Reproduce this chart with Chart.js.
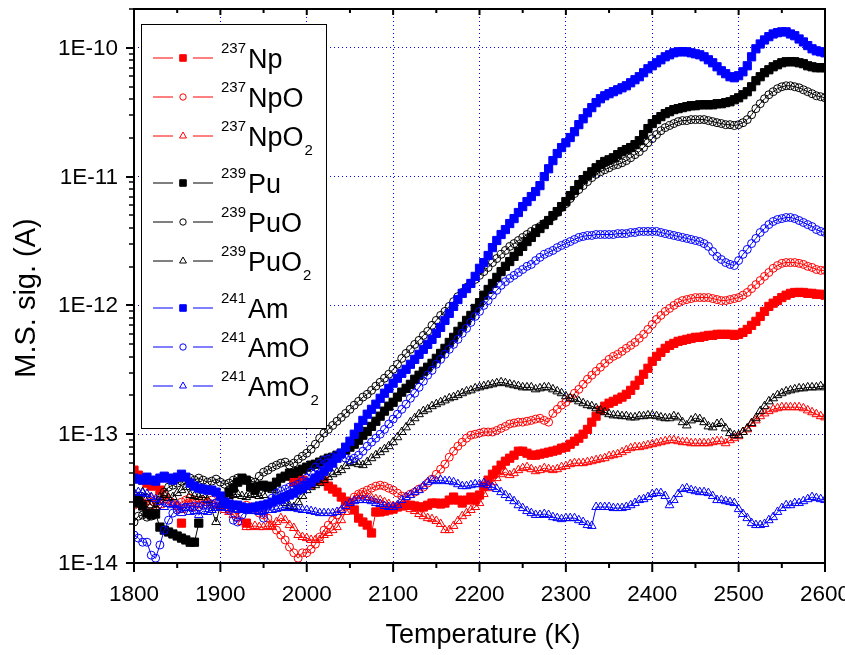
<!DOCTYPE html>
<html>
<head>
<meta charset="utf-8">
<title>M.S. signal vs temperature</title>
<script src="https://cdn.jsdelivr.net/npm/chart.js@4.4.1/dist/chart.umd.min.js"></script>
<style>
  html, body { margin: 0; padding: 0; background: #fff; }
  #wrap { width: 845px; height: 655px; }
</style>
</head>
<body>
<div id="wrap"><canvas id="msChart" width="845" height="655"></canvas></div>
<script>
// temperature grid (K), one reading every 5 K
const temps = [
  1800, 1805, 1810, 1815, 1820, 1825, 1830, 1835, 1840, 1845,
  1850, 1855, 1860, 1865, 1870, 1875, 1880, 1885, 1890, 1895,
  1900, 1905, 1910, 1915, 1920, 1925, 1930, 1935, 1940, 1945,
  1950, 1955, 1960, 1965, 1970, 1975, 1980, 1985, 1990, 1995,
  2000, 2005, 2010, 2015, 2020, 2025, 2030, 2035, 2040, 2045,
  2050, 2055, 2060, 2065, 2070, 2075, 2080, 2085, 2090, 2095,
  2100, 2105, 2110, 2115, 2120, 2125, 2130, 2135, 2140, 2145,
  2150, 2155, 2160, 2165, 2170, 2175, 2180, 2185, 2190, 2195,
  2200, 2205, 2210, 2215, 2220, 2225, 2230, 2235, 2240, 2245,
  2250, 2255, 2260, 2265, 2270, 2275, 2280, 2285, 2290, 2295,
  2300, 2305, 2310, 2315, 2320, 2325, 2330, 2335, 2340, 2345,
  2350, 2355, 2360, 2365, 2370, 2375, 2380, 2385, 2390, 2395,
  2400, 2405, 2410, 2415, 2420, 2425, 2430, 2435, 2440, 2445,
  2450, 2455, 2460, 2465, 2470, 2475, 2480, 2485, 2490, 2495,
  2500, 2505, 2510, 2515, 2520, 2525, 2530, 2535, 2540, 2545,
  2550, 2555, 2560, 2565, 2570, 2575, 2580, 2585, 2590, 2595, 2600
];

// signals (A)
const np = [
  5.26e-14, 4.81e-14, 4.40e-14, 4.17e-14, 3.95e-14, 4.09e-14, 3.68e-14, null, null, null,
  null, 2.04e-14, null, null, null, null, null, null, null, null,
  null, null, null, null, null, null, 2.04e-14, null, null, null,
  null, null, null, null, null, null, null, 4.24e-14, 4.56e-14, 4.40e-14,
  4.17e-14, 4.09e-14, 4.40e-14, 4.56e-14, 4.32e-14, 3.95e-14, 3.75e-14, 3.55e-14, 3.25e-14, 3.02e-14,
  2.92e-14, 2.58e-14, 2.23e-14, 2.08e-14, 1.97e-14, 1.71e-14, 2.49e-14, 2.49e-14, 2.53e-14, 2.58e-14,
  2.62e-14, 2.72e-14, 2.77e-14, 2.81e-14, 2.81e-14, 2.77e-14, 2.72e-14, 2.72e-14, 2.81e-14, 2.92e-14,
  2.92e-14, 2.87e-14, 2.92e-14, 3.08e-14, 3.25e-14, 3.08e-14, 2.92e-14, 3.08e-14, 3.25e-14, 3.08e-14,
  3.37e-14, 3.95e-14, 4.40e-14, 4.89e-14, 5.26e-14, 5.75e-14, 6.17e-14, 6.51e-14, 6.87e-14, 7.38e-14,
  7.38e-14, 7.12e-14, 6.87e-14, 6.87e-14, 7.00e-14, 7.12e-14, 7.25e-14, 7.38e-14, 7.52e-14, 7.79e-14,
  7.93e-14, 8.36e-14, 8.82e-14, 9.31e-14, 1.0e-13, 1.09e-13, 1.24e-13, 1.38e-13, 1.53e-13, 1.65e-13,
  1.74e-13, 1.80e-13, 1.87e-13, 1.94e-13, 2.04e-13, 2.19e-13, 2.40e-13, 2.62e-13, 2.92e-13, 3.25e-13,
  3.68e-13, 4.02e-13, 4.32e-13, 4.64e-13, 4.89e-13, 5.07e-13, 5.26e-13, 5.35e-13, 5.45e-13, 5.55e-13,
  5.65e-13, 5.65e-13, 5.75e-13, 5.85e-13, 5.85e-13, 5.96e-13, 5.96e-13, 5.96e-13, 5.96e-13, 5.85e-13,
  5.96e-13, 6.17e-13, 6.51e-13, 7.00e-13, 7.52e-13, 8.21e-13, 8.98e-13, 9.82e-13, 1.04e-12, 1.09e-12,
  1.15e-12, 1.20e-12, 1.24e-12, 1.26e-12, 1.26e-12, 1.26e-12, 1.24e-12, 1.24e-12, 1.22e-12, 1.22e-12, 1.20e-12
];

const npo = [
  2.81e-14, 3.08e-14, 2.92e-14, 3.19e-14, 2.81e-14, 3.08e-14, 3.25e-14, 3.37e-14, 3.08e-14, 2.92e-14,
  2.81e-14, 2.97e-14, 3.08e-14, 3.19e-14, 3.08e-14, 2.92e-14, 2.81e-14, 2.97e-14, 3.08e-14, 2.92e-14,
  2.81e-14, 2.92e-14, 3.08e-14, 2.81e-14, 2.58e-14, 2.67e-14, 2.81e-14, 2.72e-14, 2.58e-14, 2.44e-14,
  2.36e-14, 2.23e-14, 1.97e-14, 1.80e-14, 1.65e-14, 1.51e-14, 1.33e-14, 1.20e-14, 1.09e-14, 1.20e-14,
  1.20e-14, 1.28e-14, 1.40e-14, 1.59e-14, 1.80e-14, 1.97e-14, 2.15e-14, 2.36e-14, 2.53e-14, 2.77e-14,
  2.97e-14, 3.25e-14, 3.43e-14, 3.55e-14, 3.68e-14, 3.81e-14, 3.95e-14, 4.02e-14, 3.95e-14, 3.81e-14,
  3.68e-14, 3.49e-14, 3.31e-14, 3.25e-14, 3.43e-14, 3.55e-14, 3.75e-14, 3.88e-14, 4.17e-14, 4.48e-14,
  4.89e-14, 5.35e-14, 5.85e-14, 6.63e-14, 7.38e-14, 8.07e-14, 8.67e-14, 9.31e-14, 9.82e-14, 1.0e-13,
  1.02e-13, 1.04e-13, 1.04e-13, 1.04e-13, 1.07e-13, 1.11e-13, 1.15e-13, 1.20e-13, 1.22e-13, 1.24e-13,
  1.24e-13, 1.26e-13, 1.28e-13, 1.31e-13, 1.33e-13, 1.28e-13, 1.24e-13, 1.45e-13, 1.56e-13, 1.68e-13,
  1.77e-13, 1.90e-13, 2.08e-13, 2.23e-13, 2.44e-13, 2.67e-13, 2.87e-13, 3.08e-13, 3.31e-13, 3.55e-13,
  3.81e-13, 4.02e-13, 4.17e-13, 4.40e-13, 4.64e-13, 4.89e-13, 5.16e-13, 5.55e-13, 5.96e-13, 6.51e-13,
  7.12e-13, 7.79e-13, 8.36e-13, 8.98e-13, 9.47e-13, 1.0e-12, 1.05e-12, 1.09e-12, 1.11e-12, 1.13e-12,
  1.15e-12, 1.15e-12, 1.15e-12, 1.15e-12, 1.13e-12, 1.11e-12, 1.09e-12, 1.09e-12, 1.11e-12, 1.13e-12,
  1.15e-12, 1.20e-12, 1.26e-12, 1.35e-12, 1.45e-12, 1.56e-12, 1.68e-12, 1.80e-12, 1.94e-12, 2.04e-12,
  2.12e-12, 2.15e-12, 2.15e-12, 2.15e-12, 2.12e-12, 2.08e-12, 2.01e-12, 1.97e-12, 1.90e-12, 1.87e-12, 1.87e-12
];

const npo2 = [
  3.08e-14, 3.25e-14, 2.81e-14, 2.97e-14, 3.19e-14, 2.72e-14, 2.81e-14, 3.08e-14, 3.19e-14, 2.92e-14,
  2.72e-14, 2.58e-14, 2.81e-14, 2.92e-14, 2.67e-14, 2.81e-14, 3.08e-14, 2.92e-14, 2.81e-14, 2.67e-14,
  2.77e-14, 2.58e-14, 2.49e-14, 2.36e-14, 2.23e-14, 2.08e-14, 1.90e-14, 1.90e-14, 1.94e-14, 1.90e-14,
  1.90e-14, 1.94e-14, 1.90e-14, 2.08e-14, 2.23e-14, 2.15e-14, 1.97e-14, 1.87e-14, 1.65e-14, 1.59e-14,
  1.56e-14, 1.51e-14, 1.51e-14, 1.51e-14, 1.65e-14, 1.71e-14, 1.80e-14, 1.90e-14, 2.15e-14, 2.49e-14,
  2.72e-14, 3.08e-14, 3.31e-14, 3.37e-14, 3.25e-14, 3.19e-14, 3.13e-14, 3.08e-14, 2.97e-14, 2.87e-14,
  2.77e-14, 2.72e-14, 2.72e-14, 2.72e-14, 2.62e-14, 2.53e-14, 2.40e-14, 2.31e-14, 2.23e-14, 2.19e-14,
  2.12e-14, 2.01e-14, 1.80e-14, 1.80e-14, 1.94e-14, 2.12e-14, 2.31e-14, 2.44e-14, 2.58e-14, 2.72e-14,
  2.92e-14, 3.43e-14, 3.81e-14, 4.24e-14, 4.56e-14, 4.89e-14, 5.07e-14, 4.81e-14, 4.98e-14, 5.26e-14,
  5.45e-14, 5.55e-14, 5.35e-14, 5.16e-14, 5.26e-14, 5.45e-14, 5.35e-14, 5.26e-14, 5.35e-14, 5.55e-14,
  5.65e-14, 5.85e-14, 5.96e-14, 5.96e-14, 5.96e-14, 6.07e-14, 6.17e-14, 6.29e-14, 6.40e-14, 6.51e-14,
  6.75e-14, 6.87e-14, 7.00e-14, 7.25e-14, 7.52e-14, 7.79e-14, 7.93e-14, 7.93e-14, 8.07e-14, 8.21e-14,
  8.36e-14, 8.51e-14, 8.67e-14, 8.82e-14, 8.98e-14, 8.98e-14, 8.82e-14, 8.67e-14, 8.67e-14, 8.51e-14,
  8.51e-14, 8.51e-14, 8.51e-14, 8.51e-14, 8.67e-14, 8.82e-14, 8.82e-14, 8.51e-14, 8.98e-14, 9.31e-14,
  9.64e-14, 1.04e-13, 1.09e-13, 1.20e-13, 1.28e-13, 1.38e-13, 1.45e-13, 1.51e-13, 1.56e-13, 1.59e-13,
  1.62e-13, 1.62e-13, 1.62e-13, 1.62e-13, 1.62e-13, 1.59e-13, 1.53e-13, 1.48e-13, 1.43e-13, 1.38e-13, 1.35e-13
];

const pu = [
  2.92e-14, 3.08e-14, 2.77e-14, 2.44e-14, 2.36e-14, 2.40e-14, 1.90e-14, 1.80e-14, 1.74e-14, 1.68e-14,
  1.62e-14, 1.56e-14, 1.51e-14, 1.45e-14, 1.45e-14, 2.04e-14, null, null, null, null,
  null, null, 3.55e-14, 3.81e-14, 4.24e-14, 4.56e-14, 4.40e-14, 3.88e-14, 3.68e-14, 3.95e-14,
  4.02e-14, 3.88e-14, 3.95e-14, 4.24e-14, 4.56e-14, 4.72e-14, 4.98e-14, 4.98e-14, 5.16e-14, 5.35e-14,
  5.55e-14, 5.75e-14, 5.85e-14, 6.07e-14, 6.29e-14, 6.51e-14, 6.63e-14, 6.87e-14, 7.12e-14, 7.52e-14,
  7.93e-14, 8.36e-14, 8.98e-14, 9.82e-14, 1.05e-13, 1.15e-13, 1.26e-13, 1.38e-13, 1.51e-13, 1.65e-13,
  1.77e-13, 1.94e-13, 2.12e-13, 2.27e-13, 2.44e-13, 2.67e-13, 2.87e-13, 3.08e-13, 3.31e-13, 3.55e-13,
  3.88e-13, 4.24e-13, 4.64e-13, 5.16e-13, 5.65e-13, 6.29e-13, 6.87e-13, 7.65e-13, 8.36e-13, 9.47e-13,
  1.05e-12, 1.20e-12, 1.33e-12, 1.48e-12, 1.65e-12, 1.83e-12, 2.01e-12, 2.19e-12, 2.40e-12, 2.62e-12,
  2.87e-12, 3.13e-12, 3.37e-12, 3.68e-12, 3.95e-12, 4.24e-12, 4.56e-12, 4.98e-12, 5.35e-12, 5.85e-12,
  6.40e-12, 7.12e-12, 7.79e-12, 8.67e-12, 9.47e-12, 1.02e-11, 1.09e-11, 1.17e-11, 1.24e-11, 1.31e-11,
  1.35e-11, 1.40e-11, 1.48e-11, 1.56e-11, 1.62e-11, 1.68e-11, 1.77e-11, 1.90e-11, 2.12e-11, 2.36e-11,
  2.58e-11, 2.77e-11, 2.92e-11, 3.08e-11, 3.19e-11, 3.31e-11, 3.37e-11, 3.43e-11, 3.49e-11, 3.55e-11,
  3.55e-11, 3.61e-11, 3.61e-11, 3.61e-11, 3.61e-11, 3.68e-11, 3.68e-11, 3.75e-11, 3.81e-11, 3.95e-11,
  4.09e-11, 4.32e-11, 4.56e-11, 4.98e-11, 5.55e-11, 5.96e-11, 6.40e-11, 6.75e-11, 7.12e-11, 7.38e-11,
  7.65e-11, 7.79e-11, 7.79e-11, 7.79e-11, 7.65e-11, 7.52e-11, 7.25e-11, 7.12e-11, 7.00e-11, 7.00e-11, 7.00e-11
];

const puo = [
  2.08e-14, 2.31e-14, 2.36e-14, 2.27e-14, 2.31e-14, 2.58e-14, 3.08e-14, 3.55e-14, 3.88e-14, 4.02e-14,
  4.17e-14, 4.32e-14, 4.40e-14, 4.56e-14, 4.40e-14, 4.56e-14, 4.40e-14, 4.24e-14, 4.32e-14, 4.48e-14,
  4.24e-14, 4.09e-14, 4.17e-14, 4.40e-14, 4.56e-14, 4.48e-14, 4.40e-14, 4.32e-14, 4.24e-14, 4.72e-14,
  5.07e-14, 5.26e-14, 5.55e-14, 5.75e-14, 5.96e-14, 6.07e-14, 5.75e-14, 5.96e-14, 6.40e-14, 6.75e-14,
  7.12e-14, 7.65e-14, 8.36e-14, 9.31e-14, 1.02e-13, 1.09e-13, 1.17e-13, 1.26e-13, 1.35e-13, 1.45e-13,
  1.56e-13, 1.68e-13, 1.80e-13, 1.94e-13, 2.04e-13, 2.19e-13, 2.36e-13, 2.53e-13, 2.72e-13, 2.92e-13,
  3.19e-13, 3.49e-13, 3.88e-13, 4.24e-13, 4.56e-13, 4.98e-13, 5.35e-13, 5.85e-13, 6.29e-13, 7.00e-13,
  7.65e-13, 8.36e-13, 8.98e-13, 9.82e-13, 1.07e-12, 1.17e-12, 1.26e-12, 1.38e-12, 1.48e-12, 1.59e-12,
  1.71e-12, 1.83e-12, 1.97e-12, 2.15e-12, 2.31e-12, 2.49e-12, 2.67e-12, 2.87e-12, 3.02e-12, 3.19e-12,
  3.37e-12, 3.55e-12, 3.75e-12, 3.95e-12, 4.09e-12, 4.32e-12, 4.56e-12, 4.89e-12, 5.26e-12, 5.75e-12,
  6.17e-12, 6.75e-12, 7.38e-12, 7.93e-12, 8.51e-12, 9.14e-12, 9.82e-12, 1.04e-11, 1.09e-11, 1.13e-11,
  1.17e-11, 1.22e-11, 1.24e-11, 1.28e-11, 1.33e-11, 1.40e-11, 1.48e-11, 1.56e-11, 1.68e-11, 1.83e-11,
  1.97e-11, 2.12e-11, 2.27e-11, 2.40e-11, 2.49e-11, 2.58e-11, 2.67e-11, 2.72e-11, 2.72e-11, 2.77e-11,
  2.77e-11, 2.77e-11, 2.77e-11, 2.72e-11, 2.67e-11, 2.62e-11, 2.58e-11, 2.53e-11, 2.53e-11, 2.49e-11,
  2.53e-11, 2.62e-11, 2.77e-11, 3.02e-11, 3.37e-11, 3.68e-11, 4.02e-11, 4.32e-11, 4.56e-11, 4.81e-11,
  4.98e-11, 5.07e-11, 5.07e-11, 4.98e-11, 4.89e-11, 4.72e-11, 4.56e-11, 4.40e-11, 4.24e-11, 4.17e-11, 4.09e-11
];

const puo2 = [
  3.49e-14, 3.25e-14, 3.55e-14, 3.19e-14, 2.81e-14, 2.72e-14, 3.25e-14, 3.37e-14, 3.19e-14, 3.25e-14,
  3.49e-14, 3.68e-14, 3.88e-14, 3.37e-14, 3.31e-14, 3.25e-14, 3.37e-14, 3.08e-14, 2.58e-14, 2.08e-14,
  2.81e-14, 3.19e-14, 3.31e-14, 3.37e-14, 3.43e-14, 3.31e-14, 3.25e-14, 3.37e-14, 3.43e-14, 3.31e-14,
  3.37e-14, 3.81e-14, 3.68e-14, 3.43e-14, 3.19e-14, 2.92e-14, 2.77e-14, 2.72e-14, 2.97e-14, 3.31e-14,
  3.68e-14, 3.88e-14, 4.02e-14, 4.17e-14, 4.40e-14, 4.64e-14, 4.89e-14, 5.07e-14, 5.26e-14, 5.65e-14,
  5.96e-14, 6.07e-14, 5.85e-14, 5.75e-14, 6.07e-14, 6.51e-14, 6.87e-14, 7.25e-14, 7.65e-14, 8.07e-14,
  8.67e-14, 9.47e-14, 1.04e-13, 1.13e-13, 1.24e-13, 1.33e-13, 1.43e-13, 1.51e-13, 1.56e-13, 1.65e-13,
  1.71e-13, 1.77e-13, 1.83e-13, 1.90e-13, 1.94e-13, 2.01e-13, 2.08e-13, 2.15e-13, 2.19e-13, 2.27e-13,
  2.31e-13, 2.36e-13, 2.40e-13, 2.44e-13, 2.49e-13, 2.53e-13, 2.49e-13, 2.44e-13, 2.40e-13, 2.36e-13,
  2.31e-13, 2.31e-13, 2.31e-13, 2.23e-13, 2.27e-13, 2.31e-13, 2.31e-13, 2.23e-13, 2.15e-13, 2.08e-13,
  1.97e-13, 1.90e-13, 1.87e-13, 1.80e-13, 1.74e-13, 1.68e-13, 1.65e-13, 1.59e-13, 1.53e-13, 1.48e-13,
  1.43e-13, 1.40e-13, 1.40e-13, 1.38e-13, 1.38e-13, 1.35e-13, 1.35e-13, 1.38e-13, 1.38e-13, 1.40e-13,
  1.40e-13, 1.38e-13, 1.35e-13, 1.33e-13, 1.33e-13, 1.38e-13, 1.35e-13, 1.24e-13, 1.17e-13, 1.28e-13,
  1.33e-13, 1.31e-13, 1.24e-13, 1.15e-13, 1.13e-13, 1.20e-13, 1.22e-13, 1.11e-13, 1.02e-13, 9.82e-14,
  9.82e-14, 1.04e-13, 1.11e-13, 1.22e-13, 1.33e-13, 1.51e-13, 1.65e-13, 1.80e-13, 1.90e-13, 2.01e-13,
  2.08e-13, 2.15e-13, 2.19e-13, 2.23e-13, 2.27e-13, 2.27e-13, 2.31e-13, 2.31e-13, 2.31e-13, 2.36e-13, 2.31e-13
];

const am = [
  4.56e-14, 4.48e-14, 4.40e-14, 4.64e-14, 4.40e-14, 4.32e-14, 4.56e-14, 4.72e-14, 4.56e-14, 4.40e-14,
  4.64e-14, 4.89e-14, 4.64e-14, 4.17e-14, 3.95e-14, 3.81e-14, 3.75e-14, 3.68e-14, 3.68e-14, 3.55e-14,
  3.31e-14, 2.97e-14, 2.87e-14, 2.81e-14, 2.81e-14, 2.72e-14, 2.67e-14, 2.67e-14, 2.72e-14, 2.77e-14,
  2.81e-14, 2.87e-14, 2.97e-14, 3.08e-14, 3.13e-14, 3.25e-14, 3.37e-14, 3.49e-14, 3.68e-14, 3.81e-14,
  4.02e-14, 4.24e-14, 4.56e-14, 4.81e-14, 5.16e-14, 5.55e-14, 5.96e-14, 6.51e-14, 7.12e-14, 7.93e-14,
  8.82e-14, 1.0e-13, 1.13e-13, 1.28e-13, 1.43e-13, 1.56e-13, 1.71e-13, 1.90e-13, 2.08e-13, 2.27e-13,
  2.49e-13, 2.72e-13, 2.97e-13, 3.19e-13, 3.49e-13, 3.81e-13, 4.17e-13, 4.56e-13, 4.98e-13, 5.45e-13,
  6.07e-13, 6.75e-13, 7.65e-13, 8.67e-13, 9.82e-13, 1.11e-12, 1.24e-12, 1.35e-12, 1.48e-12, 1.68e-12,
  1.94e-12, 2.15e-12, 2.44e-12, 2.81e-12, 3.19e-12, 3.55e-12, 3.88e-12, 4.32e-12, 4.72e-12, 5.26e-12,
  5.85e-12, 6.40e-12, 7.00e-12, 7.65e-12, 8.51e-12, 1.0e-11, 1.15e-11, 1.33e-11, 1.51e-11, 1.68e-11,
  1.83e-11, 2.01e-11, 2.23e-11, 2.53e-11, 2.81e-11, 3.13e-11, 3.43e-11, 3.75e-11, 4.02e-11, 4.24e-11,
  4.40e-11, 4.56e-11, 4.72e-11, 4.89e-11, 5.07e-11, 5.35e-11, 5.65e-11, 5.96e-11, 6.40e-11, 6.87e-11,
  7.25e-11, 7.65e-11, 8.07e-11, 8.51e-11, 8.82e-11, 9.14e-11, 9.31e-11, 9.31e-11, 9.31e-11, 9.14e-11,
  8.98e-11, 8.82e-11, 8.51e-11, 8.07e-11, 7.65e-11, 7.12e-11, 6.63e-11, 6.29e-11, 5.96e-11, 5.85e-11,
  6.07e-11, 6.51e-11, 7.25e-11, 8.51e-11, 9.82e-11, 1.07e-10, 1.15e-10, 1.22e-10, 1.28e-10, 1.31e-10,
  1.33e-10, 1.33e-10, 1.28e-10, 1.24e-10, 1.17e-10, 1.11e-10, 1.04e-10, 9.82e-11, 9.47e-11, 9.31e-11, 9.14e-11
];

const amo = [
  1.65e-14, 1.56e-14, 1.45e-14, 1.45e-14, 1.15e-14, 1.09e-14, 1.38e-14, 1.80e-14, 2.15e-14, 2.44e-14,
  2.58e-14, 2.67e-14, 2.72e-14, 2.72e-14, 2.77e-14, 2.72e-14, 2.81e-14, 2.81e-14, 2.87e-14, 2.92e-14,
  2.92e-14, 2.87e-14, 2.58e-14, 2.15e-14, 2.08e-14, 2.36e-14, 2.58e-14, 2.67e-14, 2.67e-14, 2.58e-14,
  2.23e-14, 2.81e-14, 3.19e-14, 3.49e-14, 3.61e-14, 3.75e-14, 3.88e-14, 3.95e-14, 4.09e-14, 4.32e-14,
  4.56e-14, 5.07e-14, 5.55e-14, 5.96e-14, 6.29e-14, 6.40e-14, 6.63e-14, 6.87e-14, 6.87e-14, 6.51e-14,
  6.29e-14, 6.51e-14, 6.87e-14, 7.38e-14, 8.07e-14, 8.67e-14, 9.31e-14, 1.0e-13, 1.09e-13, 1.20e-13,
  1.31e-13, 1.43e-13, 1.56e-13, 1.71e-13, 1.90e-13, 2.08e-13, 2.31e-13, 2.58e-13, 2.87e-13, 3.13e-13,
  3.49e-13, 3.81e-13, 4.17e-13, 4.56e-13, 4.98e-13, 5.45e-13, 6.07e-13, 6.63e-13, 7.38e-13, 8.21e-13,
  8.98e-13, 1.0e-12, 1.09e-12, 1.20e-12, 1.31e-12, 1.43e-12, 1.53e-12, 1.62e-12, 1.71e-12, 1.80e-12,
  1.90e-12, 2.01e-12, 2.08e-12, 2.23e-12, 2.36e-12, 2.49e-12, 2.58e-12, 2.67e-12, 2.81e-12, 2.92e-12,
  3.02e-12, 3.13e-12, 3.25e-12, 3.37e-12, 3.43e-12, 3.49e-12, 3.49e-12, 3.55e-12, 3.55e-12, 3.55e-12,
  3.55e-12, 3.55e-12, 3.61e-12, 3.61e-12, 3.61e-12, 3.68e-12, 3.68e-12, 3.75e-12, 3.75e-12, 3.75e-12,
  3.75e-12, 3.75e-12, 3.68e-12, 3.61e-12, 3.55e-12, 3.49e-12, 3.43e-12, 3.37e-12, 3.31e-12, 3.25e-12,
  3.19e-12, 3.13e-12, 3.02e-12, 2.87e-12, 2.62e-12, 2.40e-12, 2.27e-12, 2.15e-12, 2.08e-12, 2.04e-12,
  2.23e-12, 2.49e-12, 2.72e-12, 3.02e-12, 3.31e-12, 3.68e-12, 3.95e-12, 4.24e-12, 4.48e-12, 4.64e-12,
  4.72e-12, 4.81e-12, 4.81e-12, 4.72e-12, 4.56e-12, 4.40e-12, 4.24e-12, 4.09e-12, 3.88e-12, 3.75e-12, 3.68e-12
];

const amo2 = [
  3.49e-14, 3.55e-14, 3.49e-14, 3.43e-14, 3.25e-14, 3.13e-14, 2.97e-14, 2.72e-14, 2.87e-14, 2.81e-14,
  2.81e-14, 2.44e-14, 2.67e-14, 2.49e-14, 2.53e-14, 2.36e-14, 2.53e-14, 2.49e-14, 2.58e-14, 2.67e-14,
  2.72e-14, 2.67e-14, 2.67e-14, 2.62e-14, 2.58e-14, 2.62e-14, 2.58e-14, 2.53e-14, 2.53e-14, 2.49e-14,
  2.53e-14, 2.58e-14, 2.58e-14, 2.62e-14, 2.67e-14, 2.72e-14, 2.67e-14, 2.67e-14, 2.62e-14, 2.58e-14,
  2.58e-14, 2.53e-14, 2.49e-14, 2.44e-14, 2.44e-14, 2.44e-14, 2.44e-14, 2.49e-14, 2.58e-14, 2.77e-14,
  2.92e-14, 3.02e-14, 3.08e-14, 3.08e-14, 3.08e-14, 3.02e-14, 2.92e-14, 2.87e-14, 2.77e-14, 2.72e-14,
  2.72e-14, 2.81e-14, 3.08e-14, 3.25e-14, 3.37e-14, 3.55e-14, 3.68e-14, 3.95e-14, 4.24e-14, 4.40e-14,
  4.32e-14, 4.40e-14, 4.32e-14, 4.32e-14, 4.24e-14, 4.09e-14, 3.95e-14, 3.95e-14, 4.02e-14, 4.09e-14,
  4.09e-14, 4.17e-14, 4.02e-14, 3.88e-14, 3.75e-14, 3.55e-14, 3.37e-14, 3.19e-14, 3.02e-14, 2.81e-14,
  2.67e-14, 2.53e-14, 2.44e-14, 2.36e-14, 2.36e-14, 2.40e-14, 2.36e-14, 2.27e-14, 2.23e-14, 2.19e-14,
  2.23e-14, 2.23e-14, 2.23e-14, 2.15e-14, 2.08e-14, 1.97e-14, 1.94e-14, 2.72e-14, 2.72e-14, 2.72e-14,
  2.72e-14, 2.67e-14, 2.67e-14, 2.67e-14, 2.72e-14, 2.81e-14, 2.92e-14, 3.08e-14, 3.13e-14, 3.25e-14,
  3.43e-14, 3.49e-14, 3.49e-14, 3.31e-14, 2.81e-14, 3.08e-14, 3.43e-14, 3.75e-14, 3.81e-14, 3.68e-14,
  3.61e-14, 3.55e-14, 3.55e-14, 3.49e-14, 3.31e-14, 3.08e-14, 3.08e-14, 3.02e-14, 2.97e-14, 2.92e-14,
  2.62e-14, 2.40e-14, 2.23e-14, 2.04e-14, 1.97e-14, 1.97e-14, 2.01e-14, 2.15e-14, 2.27e-14, 2.49e-14,
  2.67e-14, 2.81e-14, 2.81e-14, 2.92e-14, 2.92e-14, 3.02e-14, 3.13e-14, 3.25e-14, 3.19e-14, 3.13e-14, 3.08e-14
];

// legend text pieces: mass number (superscript), species, subscript
const isotopes = ['237', '237', '237', '239', '239', '239', '241', '241', '241'];
const species = ['Np', 'NpO', 'NpO', 'Pu', 'PuO', 'PuO', 'Am', 'AmO', 'AmO'];
const subs = ['', '', '2', '', '', '2', '', '', '2'];

const colors = ['#ff0000', '#ff0000', '#ff0000', '#000000', '#000000', '#000000', '#0000ff', '#0000ff', '#0000ff'];
const shapes = ['rect', 'circle', 'triangle', 'rect', 'circle', 'triangle', 'rect', 'circle', 'triangle'];

// axis ticks
const xTicks = [1800, 1900, 2000, 2100, 2200, 2300, 2400, 2500, 2600];
const xMinor = [1850, 1950, 2050, 2150, 2250, 2350, 2450, 2550];
const yTicks = [1e-14, 1e-13, 1e-12, 1e-11, 1e-10];
const yLabels = ['1E-14', '1E-13', '1E-12', '1E-11', '1E-10'];

const FONT = '"Liberation Sans", Arial, Helvetica, sans-serif';
const radius = { rect: 5.8, circle: 4, triangle: 5 };

const series = [np, npo, npo2, pu, puo, puo2, am, amo, amo2];

const datasets = series.map((vals, i) => ({
  label: isotopes[i] + species[i] + subs[i],
  data: vals.map((v, k) => ({ x: temps[k], y: v })),
  showLine: true,
  spanGaps: false,
  borderColor: colors[i],
  borderWidth: 1,
  pointStyle: shapes[i],
  pointRadius: radius[shapes[i]],
  pointBorderWidth: 1,
  pointBorderColor: colors[i],
  pointBackgroundColor: shapes[i] === 'rect' ? colors[i] : 'rgba(0,0,0,0)',
  order: 9 - i
}));

const isDecade = v => Math.abs(Math.log10(v) - Math.round(Math.log10(v))) < 1e-6;

const framePlugin = {
  id: 'frame',
  afterDraw(chart) {
    const { ctx, chartArea: a, scales: { x, y } } = chart;
    const line = (x1, y1, x2, y2) => {
      ctx.beginPath();
      ctx.moveTo(x1, y1);
      ctx.lineTo(x2, y2);
      ctx.stroke();
    };
    ctx.save();
    ctx.strokeStyle = '#000';
    ctx.fillStyle = '#000';

    // tick marks
    ctx.lineWidth = 2;
    xTicks.forEach(v => {
      const px = x.getPixelForValue(v);
      line(px, a.bottom, px, a.bottom + 9);
      line(px, a.top, px, a.top + 6);
    });
    xMinor.forEach(v => {
      const px = x.getPixelForValue(v);
      line(px, a.bottom, px, a.bottom + 5);
      line(px, a.top, px, a.top + 4);
    });
    yTicks.forEach(v => {
      const py = Math.round(y.getPixelForValue(v));
      line(a.left - 8, py, a.left, py);
    });
    ctx.lineWidth = 1.5;
    for (let e = -14; e <= -10; e++) {
      for (let m = 2; m <= 9; m++) {
        const v = m * Math.pow(10, e);
        if (v > y.max * 1.0001) break;
        const py = Math.round(y.getPixelForValue(v));
        line(a.left - 5, py, a.left, py);
      }
    }

    // frame
    ctx.lineWidth = 2;
    ctx.strokeRect(a.left, a.top, a.right - a.left, a.bottom - a.top);

    // tick labels
    ctx.font = '22.5px ' + FONT;
    ctx.textAlign = 'center';
    ctx.textBaseline = 'alphabetic';
    xTicks.forEach(v => ctx.fillText(String(v), x.getPixelForValue(v), a.bottom + 38));
    ctx.textAlign = 'right';
    yTicks.forEach((v, i) => ctx.fillText(yLabels[i], a.left - 16, y.getPixelForValue(v) + 7));

    // axis titles
    ctx.font = '27px ' + FONT;
    ctx.textAlign = 'center';
    ctx.fillText('Temperature (K)', 483, 643);
    ctx.save();
    ctx.font = '29px ' + FONT;
    ctx.translate(35, 298);
    ctx.rotate(-Math.PI / 2);
    ctx.fillText('M.S. sig. (A)', 0, 0);
    ctx.restore();

    // legend
    const box = { left: 141, top: 24, right: 327, bottom: 429 };
    ctx.fillStyle = '#fff';
    ctx.fillRect(box.left, box.top, box.right - box.left, box.bottom - box.top);
    ctx.lineWidth = 1;
    ctx.strokeStyle = '#000';
    ctx.strokeRect(box.left + 0.5, box.top + 0.5, box.right - box.left - 1, box.bottom - box.top - 1);

    let ry = 58;
    chart.data.datasets.forEach((ds, i) => {
      ctx.strokeStyle = colors[i];
      ctx.lineWidth = 1;
      line(153, ry, 173, ry);
      line(193, ry, 213, ry);
      ctx.fillStyle = ds.pointBackgroundColor;
      Chart.helpers.drawPoint(ctx, {
        pointStyle: shapes[i],
        radius: radius[shapes[i]] * 0.8,
        borderWidth: 1,
        rotation: 0
      }, 183, ry);

      ctx.fillStyle = '#000';
      ctx.textAlign = 'left';
      let tx = 221;
      ctx.font = '15px ' + FONT;
      ctx.fillText(isotopes[i], tx, ry - 5);
      tx += ctx.measureText(isotopes[i]).width + 2;
      ctx.font = '27px ' + FONT;
      ctx.fillText(species[i], tx, ry + 10);
      tx += ctx.measureText(species[i]).width + 1;
      if (subs[i]) {
        ctx.font = '15px ' + FONT;
        ctx.fillText(subs[i], tx, ry + 19);
      }
      ry += subs[i] ? 47 : 39;
    });

    ctx.restore();
  }
};

new Chart(document.getElementById('msChart'), {
  type: 'scatter',
  data: { datasets: datasets },
  options: {
    responsive: false,
    animation: false,
    layout: { padding: { top: 9, right: 20, left: 0, bottom: 0 } },
    plugins: {
      legend: { display: false },
      tooltip: { enabled: false }
    },
    scales: {
      x: {
        type: 'linear',
        min: 1800,
        max: 2600,
        ticks: { display: false, stepSize: 100, maxTicksLimit: 20 },
        grid: {
          drawTicks: false,
          lineWidth: 1,
          color: c => (c.tick && c.tick.value > 1800 && c.tick.value < 2600) ? '#0000ff' : 'rgba(0,0,0,0)'
        },
        border: { display: false, dash: [1, 3] },
        afterFit: s => { s.height = 92; }
      },
      y: {
        type: 'logarithmic',
        min: 1e-14,
        max: 2e-10,
        ticks: { display: false },
        grid: {
          drawTicks: false,
          lineWidth: 1,
          color: c => (c.tick && isDecade(c.tick.value) && c.tick.value > 1.5e-14) ? '#0000ff' : 'rgba(0,0,0,0)'
        },
        border: { display: false, dash: [1, 3] },
        afterFit: s => { s.width = 134; }
      }
    }
  },
  plugins: [framePlugin]
});
</script>
</body>
</html>
